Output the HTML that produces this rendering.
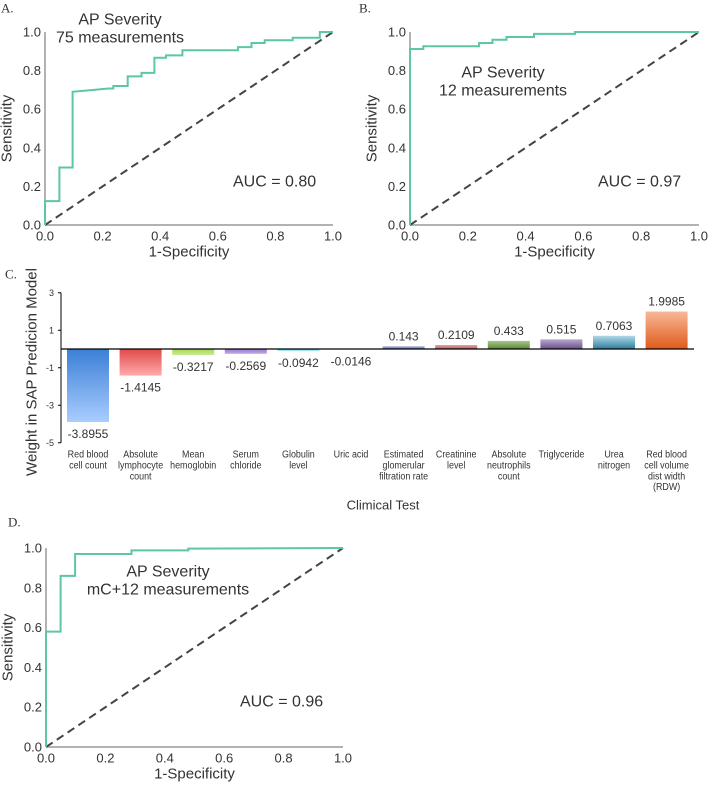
<!DOCTYPE html>
<html><head><meta charset="utf-8"><style>
html,body{margin:0;padding:0;background:#fff;}
svg{display:block;font-family:"Liberation Sans",Arial,sans-serif;}
</style></head><body>
<svg id="fig" width="708" height="786" viewBox="0 0 708 786" xmlns="http://www.w3.org/2000/svg">
<g id="root"></g>
</svg>
<script>
// ROC panel A data
const rocA_fpr = [0,0,0.05,0.05,0.096,0.096,0.17,0.22,0.237,0.237,0.287,0.287,0.335,0.335,0.38,0.38,0.42,0.42,0.477,0.477,0.67,0.67,0.717,0.717,0.763,0.763,0.86,0.86,0.954,0.954,1];
const rocA_tpr = [0,0.124,0.124,0.298,0.298,0.69,0.70,0.707,0.707,0.72,0.72,0.77,0.77,0.788,0.788,0.867,0.867,0.879,0.879,0.905,0.905,0.922,0.922,0.943,0.943,0.957,0.957,0.97,0.97,1,1];
// ROC panel B data
const rocB_fpr = [0,0,0.046,0.046,0.239,0.239,0.285,0.285,0.334,0.334,0.429,0.429,0.571,0.571,1];
const rocB_tpr = [0,0.912,0.912,0.926,0.926,0.943,0.943,0.96,0.96,0.974,0.974,0.99,0.99,1,1];
// ROC panel D data
const rocD_fpr = [0,0,0.049,0.049,0.098,0.098,0.288,0.288,0.479,0.479,1];
const rocD_tpr = [0,0.58,0.58,0.86,0.86,0.97,0.97,0.988,0.988,0.997,1];
const rocTicks = [0,0.2,0.4,0.6,0.8,1.0];
const rocTickLabels = ["0.0","0.2","0.4","0.6","0.8","1.0"];
// Bar chart data
const barCategories = [
 ["Red blood","cell count"],["Absolute","lymphocyte","count"],["Mean","hemoglobin"],["Serum","chloride"],
 ["Globulin","level"],["Uric acid"],["Estimated","glomerular","filtration rate"],["Creatinine","level"],
 ["Absolute","neutrophils","count"],["Triglyceride"],["Urea","nitrogen"],["Red blood","cell volume","dist width","(RDW)"]];
const barValues = [-3.8955,-1.4145,-0.3217,-0.2569,-0.0942,-0.0146,0.143,0.2109,0.433,0.515,0.7063,1.9985];
const barValueLabels = ["-3.8955","-1.4145","-0.3217","-0.2569","-0.0942","-0.0146","0.143","0.2109","0.433","0.515","0.7063","1.9985"];
const barTicks = [3,1,-1,-3,-5];
const barTickLabels = ["3","1","-1","-3","-5"];
const barColors = [["#3b7fd6","#a9cdff"],["#e04a4a","#ffaaaa"],["#a8d85a","#c8ec90"],["#9c78d0","#c0a8e8"],["#40cce0","#90e8f0"],["#aaaaaa","#cccccc"],
 ["#a0b0d8","#6878b0"],["#e0a0a0","#b86060"],["#a8c888","#5a8a3a"],["#b8a8d0","#6a5088"],["#b0d8e8","#2e7e9e"],["#f8b898","#e05a18"]];

const NS="http://www.w3.org/2000/svg";
const root=document.getElementById('root');
const defs=document.createElementNS(NS,'defs');root.appendChild(defs);
function mk(tag,attrs,parent){const e=document.createElementNS(NS,tag);for(const k in attrs)e.setAttribute(k,attrs[k]);(parent||root).appendChild(e);return e;}
function txt(x,y,s,size,parent,anchor,extra){const t=mk('text',Object.assign({x:x,y:y,'font-size':size,fill:'#333','text-anchor':anchor||'middle','dominant-baseline':'central'},extra||{}),parent);t.textContent=s;return t;}

function roc(name,label,lx,ly,x0,x1,y0,y1,fpr,tpr,title1,title2,tx,ty,auc,ax,ay){
  const g=mk('g',{});
  
  
  const sx=v=>x0+(x1-x0)*v, sy=v=>y0-(y0-y1)*v;
  const pl=txt(lx,ly,label,13,g,'start',{'font-family':'Liberation Serif, serif'});
  
  
  const ya=mk('line',{x1:x0,y1:y1,x2:x0,y2:y0,stroke:'#999','stroke-width':1.5},g);
  
  
  const xa=mk('line',{x1:x0,y1:y0,x2:x1,y2:y0,stroke:'#999','stroke-width':1.5},g);
  
  
  rocTicks.forEach((v,i)=>{
    const a=txt(x0-4,sy(v),rocTickLabels[i],13,g,'end');
    
    
    const b=txt(sx(v),y0+11,rocTickLabels[i],13,g,'middle');
    
    
  });
  const xt=txt((x0+x1)/2,y0+27,'1-Specificity',15,g);
  
  
  const yt=txt(0,0,'Sensitivity',15,g,'middle',{transform:`translate(${x0-38},${(y0+y1)/2}) rotate(-90)`});
  
  
  const d=mk('line',{x1:sx(0),y1:sy(0),x2:sx(1),y2:sy(1),stroke:'#444','stroke-width':2,'stroke-dasharray':'8,5'},g);
  
  
  const pts=fpr.map((f,i)=>sx(f).toFixed(1)+','+sy(tpr[i]).toFixed(1)).join(' ');
  const c=mk('polyline',{points:pts,fill:'none',stroke:'#5cc7a0','stroke-width':2},g);
  
  
  const t1=txt(tx,ty,title1,16,g);
  
  
  const t2=txt(tx,ty+18,title2,16,g);
  
  
  const au=txt(ax,ay,auc,16,g,'start');
  
  
}
roc('roc-panel-a','A.',1,8,45,333,225,32,rocA_fpr,rocA_tpr,'AP Severity','75 measurements',120,20,'AUC = 0.80',233,182);
roc('roc-panel-b','B.',359,8,410,699,225,32,rocB_fpr,rocB_tpr,'AP Severity','12 measurements',503,73,'AUC = 0.97',598,182);
roc('roc-panel-d','D.',8,522,46,343,747,548,rocD_fpr,rocD_tpr,'AP Severity','mC+12 measurements',168,572,'AUC = 0.96',240,702);

// Bar chart
(function(){
  const g=mk('g',{});
  
  
  const zeroY=349, unit=18.75, axX=61, firstX=67, pitch=52.6, bw=42;
  const sy=v=>zeroY-v*unit;
  const pl=txt(5,274,'C.',13,g,'start',{'font-family':'Liberation Serif, serif'});
  
  
  const ya=mk('line',{x1:axX,y1:sy(3),x2:axX,y2:sy(-5),stroke:'#000','stroke-width':1},g);
  
  
  barTicks.forEach((v,i)=>{
    const tk=mk('line',{x1:axX-3,y1:sy(v),x2:axX,y2:sy(v),stroke:'#000','stroke-width':1},g);
    
    
    const l=txt(axX-7,sy(v),barTickLabels[i],9,g,'end');
    
    
  });
  const yt=txt(0,0,'Weight in SAP Predicion Model',15,g,'middle',{transform:`translate(32,372) rotate(-90)`});
  
  
  barValues.forEach((v,i)=>{
    const x=firstX+pitch*i;
    const gid='bg'+i;
    const lg=mk('linearGradient',{id:gid,x1:0,y1:0,x2:0,y2:1},defs);
    mk('stop',{offset:'0','stop-color':barColors[i][0]},lg);
    mk('stop',{offset:'1','stop-color':barColors[i][1]},lg);
    const top=Math.min(sy(v),zeroY), h=Math.abs(sy(v)-zeroY);
    const r=mk('rect',{x:x,y:top,width:bw,height:Math.max(h,0.5),fill:`url(#${gid})`},g);
    
    
    const ly=v<0?sy(v)+12:sy(v)-10;
    const vl=txt(x+bw/2,ly,barValueLabels[i],12,g);
    
    
    barCategories[i].forEach((line,j)=>{
      const cl=txt(0,0,line,10.5,g,'middle',{transform:`translate(${x+bw/2},${455+j*10.8}) scale(0.85,1)`});
      
      
    });
  });
  const xa=mk('line',{x1:axX,y1:zeroY,x2:694,y2:zeroY,stroke:'#000','stroke-width':1.2},g);
  
  
  const xt=txt(383,505,'Climical Test',13,g);
  
  
})();
</script>
</body></html>
